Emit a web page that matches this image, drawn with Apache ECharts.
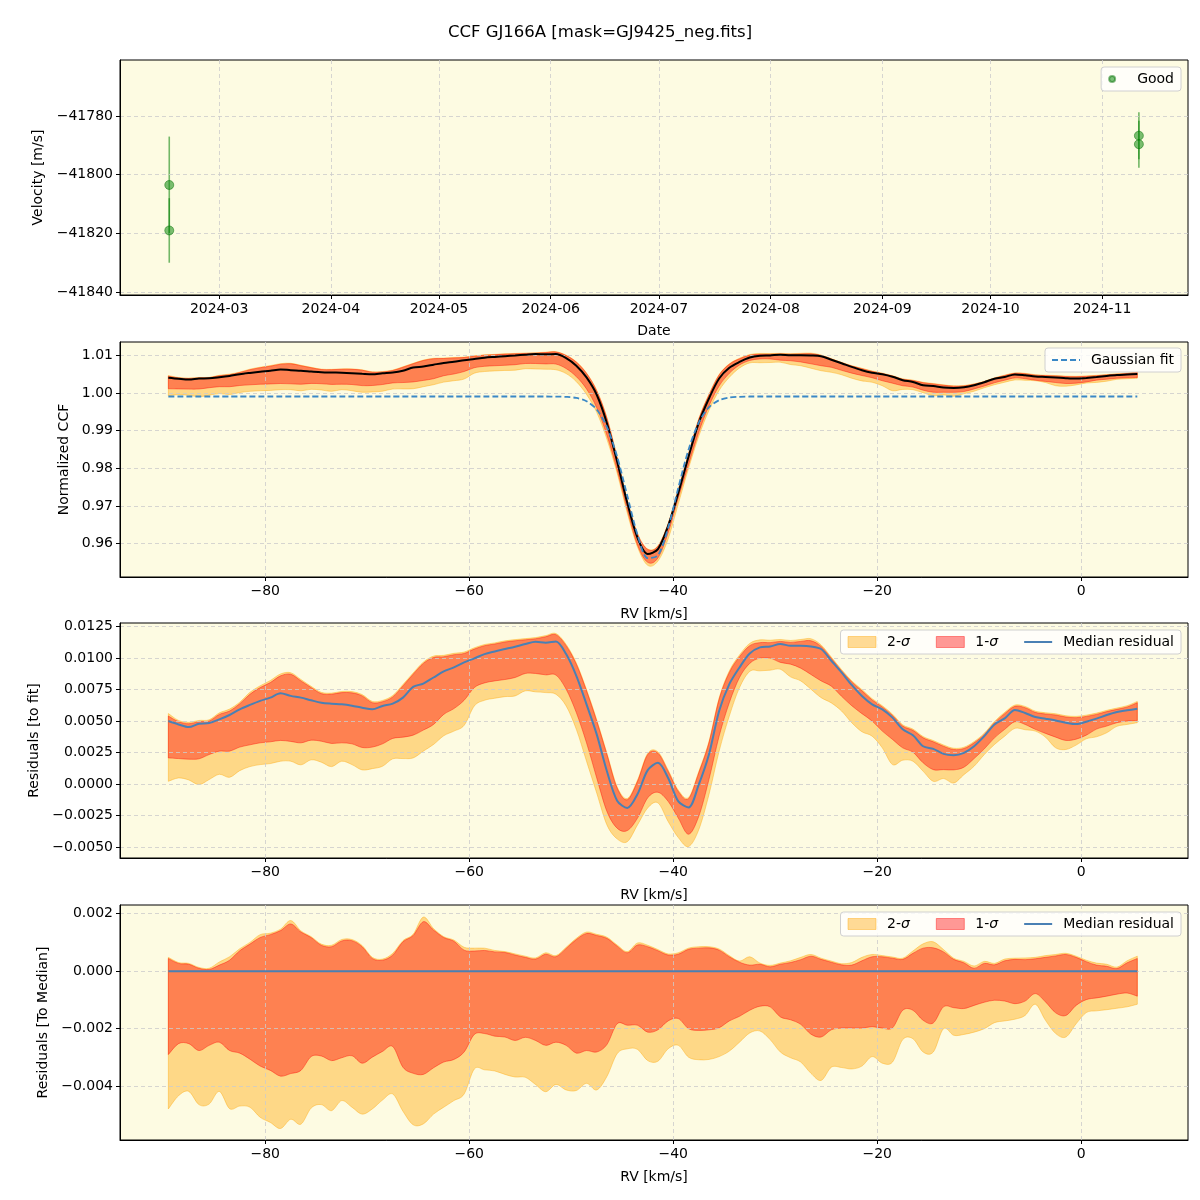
<!DOCTYPE html>
<html>
<head>
<meta charset="utf-8">
<script src="https://cdn.jsdelivr.net/npm/echarts@6/dist/echarts.min.js"></script>
<style>
  html, body { margin: 0; padding: 0; background: #fff; }
  #chart { width: 1200px; height: 1200px; }
</style>
</head>
<body>
<div id="chart"></div>
<script>
// ---- top panel: velocities ----
const obsDates = ['2024-02-16T04:00:00Z', '2024-02-16T04:00:00Z', '2024-11-11T04:00:00Z', '2024-11-11T04:00:00Z']
const obsVel = [-41803.5, -41819.0, -41786.7, -41789.6]
const obsErr = [16.5, 11.0, 8.0, 8.0]
const velTicks = [-41840, -41820, -41800, -41780]
const monthTicks = ['2024-03-01', '2024-04-01', '2024-05-01', '2024-06-01', '2024-07-01', '2024-08-01', '2024-09-01', '2024-10-01', '2024-11-01']

// ---- RV grid (km/s) ----
const rv = [
  -89.5, -88.5, -87.5, -86.5, -85.5, -84.5, -83.5, -82.5, -81.5, -80.5, -79.5, -78.5,
  -77.5, -76.5, -75.5, -74.5, -73.5, -72.5, -71.5, -70.5, -69.5, -68.5, -67.5, -66.5,
  -65.5, -64.5, -63.5, -62.5, -61.5, -60.5, -59.5, -58.5, -57.5, -56.5, -55.5, -54.5,
  -53.5, -52.5, -51.5, -50.5, -49.5, -48.5, -47.5, -46.5, -45.5, -44.5, -43.5, -42.5,
  -41.5, -40.5, -39.5, -38.5, -37.5, -36.5, -35.5, -34.5, -33.5, -32.5, -31.5, -30.5,
  -29.5, -28.5, -27.5, -26.5, -25.5, -24.5, -23.5, -22.5, -21.5, -20.5, -19.5, -18.5,
  -17.5, -16.5, -15.5, -14.5, -13.5, -12.5, -11.5, -10.5, -9.5, -8.5, -7.5, -6.5,
  -5.5, -4.5, -3.5, -2.5, -1.5, -0.5, 0.5, 1.5, 2.5, 3.5, 4.5, 5.5
]
const rvTicks = [-80, -60, -40, -20, 0]

// gaussian fit of the CCF
const gaussFit = [
  0.9991, 0.9991, 0.9991, 0.9991, 0.9991, 0.9991, 0.9991, 0.9991, 0.9991, 0.9991, 0.9991, 0.9991,
  0.9991, 0.9991, 0.9991, 0.9991, 0.9991, 0.9991, 0.9991, 0.9991, 0.9991, 0.9991, 0.9991, 0.9991,
  0.9991, 0.9991, 0.9991, 0.9991, 0.9991, 0.9991, 0.9991, 0.9991, 0.9991, 0.9991, 0.9991, 0.9991,
  0.9991, 0.9991, 0.99908, 0.9990, 0.99872, 0.99785, 0.99563, 0.99098, 0.98312, 0.97266, 0.96232, 0.9561,
  0.95684, 0.96419, 0.97485, 0.98494, 0.99215, 0.99624, 0.99811, 0.99881, 0.99903, 0.9991, 0.9991, 0.9991,
  0.9991, 0.9991, 0.9991, 0.9991, 0.9991, 0.9991, 0.9991, 0.9991, 0.9991, 0.9991, 0.9991, 0.9991,
  0.9991, 0.9991, 0.9991, 0.9991, 0.9991, 0.9991, 0.9991, 0.9991, 0.9991, 0.9991, 0.9991, 0.9991,
  0.9991, 0.9991, 0.9991, 0.9991, 0.9991, 0.9991, 0.9991, 0.9991, 0.9991, 0.9991, 0.9991, 0.9991
]

// residuals to the fit
const fitMed = [
  0.0050, 0.00473, 0.00452, 0.00479, 0.00484, 0.00513, 0.00548, 0.00593, 0.00628, 0.0066, 0.00686, 0.00721,
  0.0070, 0.00686, 0.00665, 0.00646, 0.00638, 0.00633, 0.00622, 0.00606, 0.00593, 0.0062, 0.00638, 0.00686,
  0.00771, 0.00798, 0.00846, 0.00894, 0.00926, 0.00966, 0.00998, 0.01032, 0.01053, 0.01072, 0.01091, 0.01112,
  0.0113, 0.01123, 0.01133, 0.01032, 0.00859, 0.00633, 0.00394, 0.00101, -0.00133, -0.0019, -0.0008, 0.0011,
  0.00168, 0.00048, -0.00138, -0.00186, -0.00005, 0.00234, 0.0058, 0.00793, 0.00926, 0.01037, 0.01085, 0.01093,
  0.01112, 0.01098, 0.01098, 0.01093, 0.01072, 0.00979, 0.00886, 0.00787, 0.00699, 0.00633, 0.00593, 0.00527,
  0.00434, 0.00388, 0.003, 0.00279, 0.00239, 0.00229, 0.00247, 0.003, 0.0038, 0.00473, 0.00521, 0.00588,
  0.00564, 0.00532, 0.00519, 0.00505, 0.00487, 0.00476, 0.00495, 0.00519, 0.00548, 0.00572, 0.00585, 0.00598
]
const fitHi1 = [
  0.0054, 0.00495, 0.00479, 0.00495, 0.005, 0.00553, 0.0058, 0.00638, 0.00713, 0.00766, 0.00806, 0.00859,
  0.00872, 0.00819, 0.00766, 0.00718, 0.00713, 0.00726, 0.00724, 0.0070, 0.00646, 0.00654, 0.00692, 0.00779,
  0.00872, 0.00958, 0.01005, 0.01011, 0.01027, 0.01037, 0.01072, 0.01099, 0.01112, 0.01128, 0.01138, 0.01146,
  0.01154, 0.0117, 0.01186, 0.01099, 0.00952, 0.0074, 0.005, 0.00234, -0.00032, -0.00125, 0.00021, 0.00234,
  0.00245, 0.00101, -0.00059, -0.00117, 0.00088, 0.00327, 0.00673, 0.00886, 0.01011, 0.01099, 0.01123, 0.01123,
  0.01133, 0.01125, 0.01133, 0.01138, 0.01093, 0.00998, 0.00899, 0.00811, 0.0074, 0.00668, 0.00612, 0.00545,
  0.0046, 0.00426, 0.00367, 0.00335, 0.003, 0.00274, 0.00282, 0.00327, 0.00394, 0.00487, 0.00559, 0.00617,
  0.00606, 0.00569, 0.00556, 0.00548, 0.00532, 0.00527, 0.00537, 0.00553, 0.00575, 0.00593, 0.00612, 0.00646
]
const fitLo1 = [
  0.00207, 0.00202, 0.00197, 0.002, 0.00234, 0.00261, 0.00261, 0.00293, 0.00311, 0.00327, 0.00335, 0.00346,
  0.00338, 0.00327, 0.00348, 0.0034, 0.00322, 0.00327, 0.00319, 0.0029, 0.00293, 0.00319, 0.00362, 0.00372,
  0.00388, 0.00428, 0.00473, 0.00553, 0.00599, 0.00665, 0.00766, 0.00803, 0.00819, 0.0083, 0.00846, 0.00878,
  0.00878, 0.00867, 0.00865, 0.00753, 0.00567, 0.00327, 0.00048, -0.00218, -0.00351, -0.0037, -0.00271, -0.0011,
  -0.00066, -0.00138, -0.00271, -0.00399, -0.00258, 0.00035, 0.0038, 0.00646, 0.00846, 0.00958, 0.01, 0.01,
  0.00966, 0.00952, 0.0092, 0.0087, 0.00819, 0.00777, 0.00697, 0.00622, 0.00559, 0.005, 0.0042, 0.00354,
  0.00287, 0.00253, 0.00168, 0.00114, 0.00114, 0.00112, 0.00133, 0.00202, 0.00279, 0.00367, 0.00434, 0.00495,
  0.00473, 0.00434, 0.00402, 0.00372, 0.00346, 0.00356, 0.00388, 0.00436, 0.0046, 0.00487, 0.005, 0.00505
]
const fitHi2 = [
  0.0056, 0.00505, 0.0049, 0.00505, 0.0051, 0.00565, 0.00595, 0.0065, 0.00728, 0.0078, 0.00822, 0.00874,
  0.00884, 0.0083, 0.00776, 0.00728, 0.00722, 0.00735, 0.00734, 0.0071, 0.00656, 0.00664, 0.00703, 0.0079,
  0.00882, 0.00968, 0.01016, 0.01022, 0.01038, 0.01048, 0.01082, 0.01108, 0.01121, 0.01137, 0.01147, 0.01155,
  0.01163, 0.01179, 0.01195, 0.01109, 0.00962, 0.0075, 0.0051, 0.00244, -0.00022, -0.00115, 0.00031, 0.00244,
  0.00255, 0.00111, -0.00049, -0.00107, 0.00098, 0.00337, 0.00683, 0.00898, 0.01025, 0.01117, 0.01145, 0.01142,
  0.01148, 0.0114, 0.01148, 0.01154, 0.01105, 0.01008, 0.00909, 0.0082, 0.0075, 0.00678, 0.00622, 0.00555,
  0.0047, 0.00436, 0.00377, 0.00345, 0.0031, 0.00284, 0.00292, 0.00337, 0.00404, 0.00497, 0.00569, 0.00627,
  0.00616, 0.00579, 0.00566, 0.00558, 0.00542, 0.00537, 0.00547, 0.00563, 0.00585, 0.00603, 0.00622, 0.00656
]
const fitLo2 = [
  0.00021, 0.00048, 0.00032, -0.00005, 0.00035, 0.00077, 0.00053, 0.00106, 0.00138, 0.00154, 0.00162, 0.00181,
  0.00181, 0.00152, 0.00192, 0.00173, 0.00138, 0.00181, 0.00154, 0.00112, 0.00122, 0.00141, 0.0020, 0.00202,
  0.00207, 0.00261, 0.00314, 0.00383, 0.0042, 0.00466, 0.0062, 0.00665, 0.00681, 0.00694, 0.0070, 0.0074,
  0.00732, 0.00726, 0.00713, 0.0062, 0.00434, 0.00181, -0.00072, -0.00325, -0.00436, -0.00458, -0.00325, -0.0019,
  -0.0015, -0.00298, -0.00426, -0.00497, -0.00364, -0.00085, 0.00261, 0.0054, 0.00766, 0.00894, 0.00899, 0.00904,
  0.00912, 0.00851, 0.00819, 0.00753, 0.00686, 0.00644, 0.0058, 0.00487, 0.00415, 0.0038, 0.00287, 0.00154,
  0.00189, 0.00181, 0.00101, 0.00021, 0.00043, 0.00008, 0.00074, 0.00141, 0.00234, 0.00314, 0.0038, 0.00442,
  0.00431, 0.0042, 0.00372, 0.00287, 0.00274, 0.00309, 0.00359, 0.00375, 0.00407, 0.00458, 0.00473, 0.00487
]

// residuals to the median
const medMed = [
  0, 0, 0, 0, 0, 0, 0, 0, 0, 0, 0, 0, 0, 0, 0, 0, 0, 0, 0, 0, 0, 0, 0, 0,
  0, 0, 0, 0, 0, 0, 0, 0, 0, 0, 0, 0, 0, 0, 0, 0, 0, 0, 0, 0, 0, 0, 0, 0,
  0, 0, 0, 0, 0, 0, 0, 0, 0, 0, 0, 0, 0, 0, 0, 0, 0, 0, 0, 0, 0, 0, 0, 0,
  0, 0, 0, 0, 0, 0, 0, 0, 0, 0, 0, 0, 0, 0, 0, 0, 0, 0, 0, 0, 0, 0, 0, 0
]
const medHi1 = [
  0.00044, 0.00027, 0.00024, 0.0001, 0.00006, 0.00021, 0.00038, 0.00071, 0.00094, 0.00117, 0.00127, 0.00141,
  0.00164, 0.00136, 0.00117, 0.0009, 0.00085, 0.00105, 0.00106, 0.00085, 0.00044, 0.00038, 0.00056, 0.00102,
  0.00124, 0.00172, 0.00143, 0.00117, 0.00104, 0.00073, 0.0007, 0.00072, 0.00067, 0.00065, 0.00056, 0.00048,
  0.00042, 0.00059, 0.0005, 0.00079, 0.0011, 0.00131, 0.00124, 0.00114, 0.00087, 0.00064, 0.00091, 0.00085,
  0.00071, 0.00056, 0.00059, 0.00076, 0.0008, 0.00081, 0.00073, 0.0005, 0.00031, 0.00021, 0.00024, 0.00015,
  0.00024, 0.0003, 0.0004, 0.00052, 0.00041, 0.00031, 0.00022, 0.00021, 0.00036, 0.0005, 0.0005, 0.00045,
  0.00041, 0.00062, 0.0008, 0.00081, 0.00067, 0.00041, 0.00029, 0.0001, 0.00027, 0.00022, 0.00036, 0.00041,
  0.0004, 0.00043, 0.00048, 0.00053, 0.00058, 0.00048, 0.00033, 0.00021, 0.00017, 0.00009, 0.00029, 0.00044
]
const medLo1 = [
  -0.0029, -0.00252, -0.00252, -0.00276, -0.00258, -0.00247, -0.00276, -0.00285, -0.00306, -0.0033, -0.00345, -0.00365,
  -0.00356, -0.00345, -0.00297, -0.00295, -0.00311, -0.00301, -0.00294, -0.0032, -0.00299, -0.00279, -0.00262, -0.00334,
  -0.00355, -0.00359, -0.00336, -0.00316, -0.00307, -0.00281, -0.0022, -0.00217, -0.00226, -0.00229, -0.00241, -0.0023,
  -0.00241, -0.00258, -0.00247, -0.00258, -0.00285, -0.00276, -0.00281, -0.00255, -0.00183, -0.00188, -0.00188, -0.00212,
  -0.00204, -0.00173, -0.00165, -0.002, -0.00206, -0.00204, -0.00197, -0.00173, -0.00157, -0.00136, -0.00122, -0.00124,
  -0.00159, -0.00169, -0.00185, -0.00219, -0.00229, -0.00204, -0.00198, -0.00198, -0.00198, -0.00193, -0.00198, -0.00197,
  -0.00136, -0.00136, -0.00171, -0.0018, -0.00124, -0.00127, -0.0013, -0.00119, -0.00108, -0.00101, -0.00104, -0.00113,
  -0.00104, -0.00078, -0.00107, -0.00145, -0.00154, -0.00119, -0.00099, -0.00093, -0.00087, -0.0008, -0.00076, -0.00087
]
const medHi2 = [
  0.00048, 0.0003, 0.00027, 0.00013, 0.0001, 0.00032, 0.0005, 0.00078, 0.001, 0.00127, 0.00132, 0.00146,
  0.00176, 0.0014, 0.0012, 0.00094, 0.0009, 0.0011, 0.0011, 0.00089, 0.00048, 0.00042, 0.00062, 0.00106,
  0.00128, 0.00188, 0.00148, 0.0012, 0.00108, 0.00083, 0.0008, 0.0008, 0.00072, 0.00068, 0.0006, 0.00052,
  0.00046, 0.00064, 0.00054, 0.00083, 0.00114, 0.00136, 0.00128, 0.00118, 0.00091, 0.00068, 0.00098, 0.0009,
  0.00075, 0.0006, 0.00064, 0.0008, 0.00085, 0.00085, 0.00077, 0.00054, 0.00035, 0.0005, 0.00028, 0.0002,
  0.00028, 0.00036, 0.00048, 0.00058, 0.00045, 0.00035, 0.00026, 0.0003, 0.00048, 0.00058, 0.00054, 0.00049,
  0.00045, 0.0007, 0.00095, 0.00102, 0.00075, 0.00045, 0.00034, 0.00018, 0.00034, 0.00027, 0.00042, 0.00045,
  0.00046, 0.00048, 0.00054, 0.00058, 0.00062, 0.00052, 0.00038, 0.00028, 0.00024, 0.00014, 0.00036, 0.00052
]
const medLo2 = [
  -0.00479, -0.00433, -0.00418, -0.00464, -0.00462, -0.00418, -0.00478, -0.00469, -0.00473, -0.00508, -0.00526, -0.00547,
  -0.00515, -0.00532, -0.00476, -0.00464, -0.00485, -0.0045, -0.00473, -0.00497, -0.00479, -0.00448, -0.00427, -0.00487,
  -0.00534, -0.00531, -0.00497, -0.00473, -0.0045, -0.00427, -0.0034, -0.00343, -0.00347, -0.00359, -0.00368, -0.00369,
  -0.00394, -0.00419, -0.00394, -0.00413, -0.00415, -0.0039, -0.00413, -0.00366, -0.00287, -0.0027, -0.00272, -0.00311,
  -0.00313, -0.0027, -0.00258, -0.00299, -0.00308, -0.00307, -0.00297, -0.00278, -0.00247, -0.00215, -0.00208, -0.00238,
  -0.00281, -0.00301, -0.00316, -0.00355, -0.0038, -0.00334, -0.00335, -0.0034, -0.0033, -0.00297, -0.0032, -0.00316,
  -0.00238, -0.00235, -0.00281, -0.00281, -0.002, -0.00223, -0.0022, -0.00212, -0.002, -0.00179, -0.00173, -0.00167,
  -0.00154, -0.00115, -0.00171, -0.00217, -0.00229, -0.00183, -0.00144, -0.00138, -0.00134, -0.00129, -0.00124, -0.00115
]

const chart = echarts.init(document.getElementById('chart'))

const FONT = 'DejaVu Sans'
const BG = '#fdfbe2'
const C2 = 'rgba(255,165,0,0.4)'
const C1 = 'rgba(255,0,0,0.4)'
const MEDCOL = '#4a80b4'
const FITCOL = '#3a88c6'
const LINE_ICON = 'path://M0,0H28V2H0Z'
const DASH_ICON = 'path://M0,0H6V2H0Z M9,0H15V2H9Z M18,0H24V2H18Z M27,0H28V2H27Z'
const minus = function (s) { return String(s).replace('-', '\u2212') }
const lab = { fontFamily: FONT, fontSize: 14, color: '#000' }
const grids = [
  { left: 120, top: 60, width: 1068, height: 235 },
  { left: 120, top: 342, width: 1068, height: 235 },
  { left: 120, top: 623, width: 1068, height: 235 },
  { left: 120, top: 905, width: 1068, height: 235 }
].map(function (g) {
  return Object.assign(g, { show: true, backgroundColor: BG, borderColor: '#000', borderWidth: 1 })
})

const split = { show: true, lineStyle: { color: '#cccccc', width: 0.8, type: [4, 3] } }

function rvAxis (gi) {
  return {
    type: 'value', gridIndex: gi, min: -94.24, max: 10.47, z: 3,
    name: 'RV [km/s]', nameLocation: 'middle', nameGap: 30, nameTextStyle: lab,
    axisLine: { onZero: false, lineStyle: { color: '#000' } },
    axisTick: { customValues: rvTicks, length: 4, lineStyle: { color: '#000' } },
    axisLabel: Object.assign({ customValues: rvTicks, margin: 7, formatter: function (v) { return minus(v) } }, lab),
    splitLine: split
  }
}
function yAxis (gi, min, max, ticks, dec, name, gap) {
  return {
    type: 'value', gridIndex: gi, min: min, max: max, z: 3,
    name: name, nameLocation: 'middle', nameGap: gap, nameTextStyle: lab,
    axisLine: { onZero: false, lineStyle: { color: '#000' } },
    axisTick: { customValues: ticks, length: 4, lineStyle: { color: '#000' } },
    axisLabel: Object.assign({ customValues: ticks, margin: 7, formatter: function (v) { return minus(v.toFixed(dec)) } }, lab),
    splitLine: split
  }
}

// cubic segments through pixel points (catmull-rom), without the leading move
function curveSegs (pts) {
  let d = ''
  for (let i = 0; i < pts.length - 1; i++) {
    const p0 = pts[Math.max(i - 1, 0)]
    const p1 = pts[i]
    const p2 = pts[i + 1]
    const p3 = pts[Math.min(i + 2, pts.length - 1)]
    d += 'C' + (p1[0] + (p2[0] - p0[0]) / 6) + ',' + (p1[1] + (p2[1] - p0[1]) / 6) + ',' +
      (p2[0] - (p3[0] - p1[0]) / 6) + ',' + (p2[1] - (p3[1] - p1[1]) / 6) + ',' + p2[0] + ',' + p2[1]
  }
  return d
}

// filled band between lo and hi, like fill_between
function band (name, gi, lo, hi, color) {
  return {
    type: 'custom', name: name, xAxisIndex: gi, yAxisIndex: gi, silent: true, z: 2,
    itemStyle: { color: color },
    data: rv.map(function (x, i) { return [x, lo[i], hi[i]] }),
    encode: { x: 0, y: [1, 2] },
    renderItem: function (params, api) {
      if (params.dataIndex !== 0) return null
      const top = rv.map(function (x, i) { return api.coord([x, hi[i]]) })
      const bot = rv.map(function (x, i) { return api.coord([x, lo[i]]) }).reverse()
      const fillPath = 'M' + top[0][0] + ',' + top[0][1] + curveSegs(top) +
        'L' + bot[0][0] + ',' + bot[0][1] + curveSegs(bot) + 'Z'
      return {
        type: 'path',
        shape: { pathData: fillPath },
        style: { fill: color, stroke: color, lineWidth: 1 }
      }
    }
  }
}

// CCF bands = fit + residual bands
const ccfMed = gaussFit.map(function (g, i) { return g + fitMed[i] })
const ccfHi1 = gaussFit.map(function (g, i) { return g + fitHi1[i] })
const ccfLo1 = gaussFit.map(function (g, i) { return g + fitLo1[i] })
const ccfHi2 = gaussFit.map(function (g, i) { return g + fitHi2[i] })
const ccfLo2 = gaussFit.map(function (g, i) { return g + fitLo2[i] })

const tDates = obsDates.map(function (d) { return Date.parse(d) })
const tTicks = monthTicks.map(function (d) { return Date.parse(d + 'T00:00:00Z') })

const legendBase = {
  orient: 'horizontal', right: 19, backgroundColor: 'rgba(255,255,255,0.8)',
  borderColor: '#d0d0d0', borderWidth: 1, borderRadius: 3, padding: [5, 7, 5, 7],
  itemWidth: 28, itemHeight: 11, itemGap: 26,
  textStyle: { fontFamily: FONT, fontSize: 14, color: '#000', padding: [0, 0, 0, 6], rich: { i: { fontFamily: FONT, fontSize: 14, fontStyle: 'italic' } } },
  formatter: function (n) { return n.replace('σ', '{i|σ}') }
}
const bandLegend = [
  { name: '2-σ', icon: 'rect', itemStyle: { color: C2, borderColor: C2, borderWidth: 1 } },
  { name: '1-σ', icon: 'rect', itemStyle: { color: C1, borderColor: C1, borderWidth: 1 } },
  { name: 'Median residual', icon: LINE_ICON }
]

const option = {
  animation: false,
  backgroundColor: '#fff',
  title: { text: 'CCF GJ166A [mask=GJ9425_neg.fits]', left: 'center', top: 19, textStyle: { fontFamily: FONT, fontSize: 16.5, fontWeight: 'normal', color: '#000' } },
  grid: grids,
  legend: [
    Object.assign({}, legendBase, { top: 67, itemWidth: 28, itemHeight: 6, data: [{ name: 'Good', icon: 'circle' }] }),
    Object.assign({}, legendBase, { top: 348, data: [{ name: 'Gaussian fit', icon: DASH_ICON }] }),
    Object.assign({}, legendBase, { top: 630, data: bandLegend }),
    Object.assign({}, legendBase, { top: 912, data: bandLegend })
  ],
  xAxis: [
    {
      type: 'value', gridIndex: 0, min: Date.parse('2024-02-02T12:00:00Z'), max: Date.parse('2024-11-24T19:00:00Z'), z: 3,
      name: 'Date', nameLocation: 'middle', nameGap: 29, nameTextStyle: lab,
      axisLine: { onZero: false, lineStyle: { color: '#000' } },
      axisTick: { customValues: tTicks, length: 4, lineStyle: { color: '#000' } },
      axisLabel: Object.assign({
        customValues: tTicks, margin: 7,
        formatter: function (v) { const d = new Date(v); return d.getUTCFullYear() + '-' + String(d.getUTCMonth() + 1).padStart(2, '0') }
      }, lab),
      splitLine: split
    },
    rvAxis(1), rvAxis(2), rvAxis(3)
  ],
  yAxis: [
    yAxis(0, -41841, -41760.9, velTicks, 0, 'Velocity [m/s]', 68),
    yAxis(1, 0.9511, 1.0136, [0.96, 0.97, 0.98, 0.99, 1.00, 1.01], 2, 'Normalized CCF', 44),
    yAxis(2, -0.00588, 0.01279, [-0.005, -0.0025, 0, 0.0025, 0.005, 0.0075, 0.01, 0.0125], 4, 'Residuals [to fit]', 72),
    yAxis(3, -0.00587, 0.0023, [-0.004, -0.002, 0, 0.002], 3, 'Residuals [To Median]', 63)
  ],
  series: [
    // panel 1
    {
      type: 'custom', xAxisIndex: 0, yAxisIndex: 0, silent: true,
      data: tDates.map(function (t, i) { return [t, obsVel[i] - obsErr[i], obsVel[i] + obsErr[i]] }),
      encode: { x: 0, y: [1, 2] },
      renderItem: function (params, api) {
        const a = api.coord([api.value(0), api.value(1)])
        const b = api.coord([api.value(0), api.value(2)])
        return { type: 'line', shape: { x1: a[0], y1: a[1], x2: b[0], y2: b[1] }, style: { stroke: 'rgba(0,128,0,0.55)', lineWidth: 1.6 } }
      }
    },
    {
      type: 'scatter', name: 'Good', xAxisIndex: 0, yAxisIndex: 0, symbolSize: 9, z: 4,
      itemStyle: { color: 'rgba(20,140,20,0.7)', borderColor: 'rgba(0,110,0,0.6)', borderWidth: 1 },
      data: tDates.map(function (t, i) { return [t, obsVel[i]] })
    },
    // panel 2
    band('2-σ', 1, ccfLo2, ccfHi2, C2),
    band('1-σ', 1, ccfLo1, ccfHi1, C1),
    {
      type: 'line', name: 'CCF median', xAxisIndex: 1, yAxisIndex: 1, symbol: 'none', smooth: 0.3, z: 5,
      lineStyle: { color: '#000', width: 2 }, data: rv.map(function (x, i) { return [x, ccfMed[i]] })
    },
    {
      type: 'line', name: 'Gaussian fit', xAxisIndex: 1, yAxisIndex: 1, symbol: 'none', smooth: 0.3, z: 6,
      itemStyle: { color: FITCOL },
      lineStyle: { color: FITCOL, width: 1.8, type: [6, 3] }, data: rv.map(function (x, i) { return [x, gaussFit[i]] })
    },
    // panel 3
    band('2-σ', 2, fitLo2, fitHi2, C2),
    band('1-σ', 2, fitLo1, fitHi1, C1),
    {
      type: 'line', name: 'Median residual', xAxisIndex: 2, yAxisIndex: 2, symbol: 'none', smooth: 0.3, z: 5,
      itemStyle: { color: MEDCOL }, lineStyle: { color: MEDCOL, width: 2 }, data: rv.map(function (x, i) { return [x, fitMed[i]] })
    },
    // panel 4
    band('2-σ', 3, medLo2, medHi2, C2),
    band('1-σ', 3, medLo1, medHi1, C1),
    {
      type: 'line', name: 'Median residual', xAxisIndex: 3, yAxisIndex: 3, symbol: 'none', z: 5,
      itemStyle: { color: MEDCOL }, lineStyle: { color: MEDCOL, width: 2 }, data: rv.map(function (x, i) { return [x, medMed[i]] })
    }
  ]
}

chart.setOption(option)
</script>
</body>
</html>
